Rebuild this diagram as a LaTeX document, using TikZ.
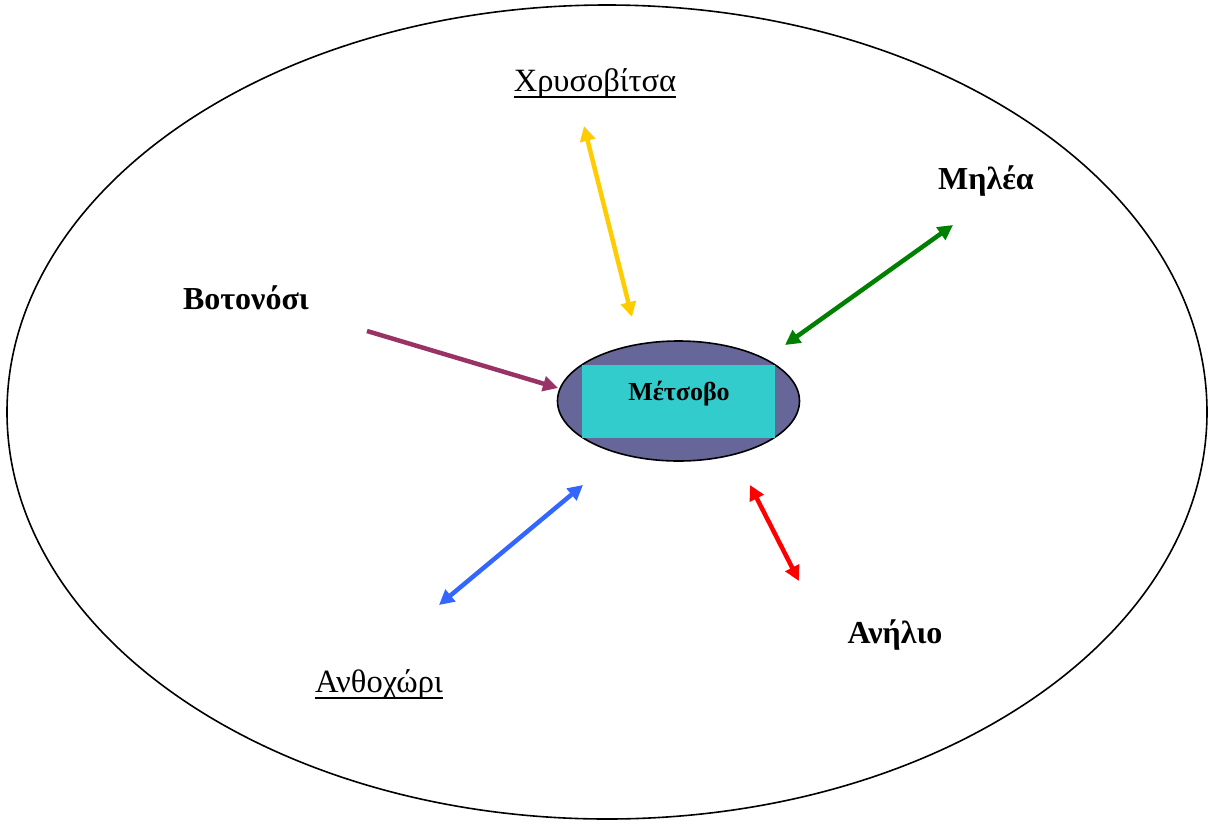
\documentclass[tikz,border=0pt]{standalone}
\usepackage{fontspec}
\setmainfont{Liberation Serif}
\usetikzlibrary{arrows.meta}
\definecolor{cyellow}{HTML}{FFCC00}
\definecolor{cgreen}{HTML}{008000}
\definecolor{cpurple}{HTML}{993366}
\definecolor{cblue}{HTML}{3366FF}
\definecolor{cred}{HTML}{FF0000}
\definecolor{cnavy}{HTML}{666699}
\definecolor{ccyan}{HTML}{33CCCC}
\tikzset{
  lbl/.style={anchor=base, inner sep=0pt, font=\fontsize{32.5}{38}\selectfont},
  blbl/.style={lbl, font=\fontsize{32}{38}\selectfont\bfseries},
  uline/.style={line width=2pt},
  conn/.style={line width=4.5pt, -{Triangle[length=15pt,width=15pt]}},
  bconn/.style={line width=4.5pt, {Triangle[length=15pt,width=15pt]}-{Triangle[length=15pt,width=15pt]}},
}
\begin{document}
\begin{tikzpicture}[x=1pt,y=-1pt]
\useasboundingbox (0,0) rectangle (1211,823);
\draw[line width=1.6pt] (607,412) ellipse [x radius=600, y radius=407];
\draw[line width=1.6pt, fill=cnavy] (678.5,401) ellipse [x radius=121, y radius=60];
\fill[ccyan] (582,365) rectangle (775,438);
\node[lbl, font=\fontsize{26}{30}\selectfont\bfseries] (metsovo) at (679,400) {Μέτσοβο};
\node[lbl] (chrys) at (595,91) {Χρυσοβίτσα};
\draw[uline] ([yshift=-6pt]chrys.base west) -- ([yshift=-6pt]chrys.base east);
\node[blbl] (milea) at (986,189) {Μηλέα};
\node[blbl] (votonosi) at (246,309) {Βοτονόσι};
\node[blbl] (anilio) at (895,643) {Ανήλιο};
\node[lbl] (anthochori) at (379,692) {Ανθοχώρι};
\draw[uline] ([yshift=-6pt]anthochori.base west) -- ([yshift=-6pt]anthochori.base east);
\coordinate (y1) at (584,126); \coordinate (y2) at (632,317);
\coordinate (g1) at (953,225); \coordinate (g2) at (785,345);
\coordinate (p1) at (367,331); \coordinate (p2) at (558,388);
\coordinate (b1) at (583,485); \coordinate (b2) at (439,605);
\coordinate (r1) at (750,485); \coordinate (r2) at (799,581);
\draw[bconn, cyellow] (y1) -- (y2);
\draw[bconn, cgreen] (g1) -- (g2);
\draw[conn, cpurple] (p1) -- (p2);
\draw[bconn, cblue] (b1) -- (b2);
\draw[bconn, cred] (r1) -- (r2);
\end{tikzpicture}
\end{document}
